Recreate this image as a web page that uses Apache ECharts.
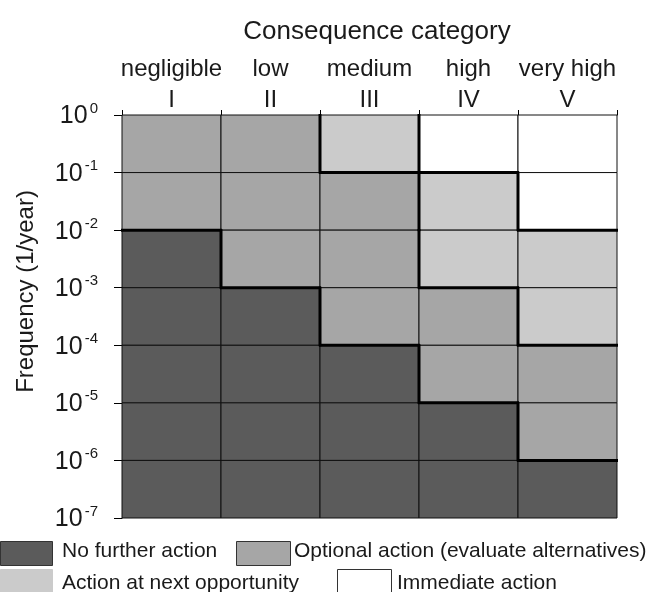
<!DOCTYPE html>
<html>
<head>
<meta charset="utf-8">
<script src="https://cdn.jsdelivr.net/npm/echarts@6/dist/echarts.min.js"></script>
<style>
html,body{margin:0;padding:0;background:#fff;}
#chart{width:652px;height:592px;}
</style>
</head>
<body>
<div id="chart"></div>
<script>
// Consequence categories (columns)
const categoryNames = ['negligible', 'low', 'medium', 'high', 'very high'];
const categoryNumerals = ['I', 'II', 'III', 'IV', 'V'];
// Frequency tick exponents (10^x), top to bottom
const freqExponents = [0, -1, -2, -3, -4, -5, -6, -7];
// Action classes
const actionNames = ['No further action', 'Optional action (evaluate alternatives)', 'Action at next opportunity', 'Immediate action'];
const actionColors = ['#5b5b5b', '#a6a6a6', '#cbcbcb', '#ffffff'];
// Class of each cell per column, rows from top band (10^0..10^-1) to bottom band (10^-6..10^-7)
const colI   = [1, 1, 0, 0, 0, 0, 0];
const colII  = [1, 1, 1, 0, 0, 0, 0];
const colIII = [2, 1, 1, 1, 0, 0, 0];
const colIV  = [3, 2, 2, 1, 1, 0, 0];
const colV   = [3, 3, 2, 2, 1, 1, 0];
const columns = [colI, colII, colIII, colIV, colV];

const cellData = [];
columns.forEach((col, c) => col.forEach((cls, r) => cellData.push([c, r, cls])));

function clsAt(c, r) { return columns[c][r]; }

const chart = echarts.init(document.getElementById('chart'));
const FONT = 'Liberation Sans, Arial, sans-serif';

const option = {
  animation: false,
  backgroundColor: '#fff',
  title: {
    text: 'Consequence category',
    left: 372, top: 14, textAlign: 'center',
    textStyle: { fontFamily: FONT, fontSize: 26, fontWeight: 'normal', color: '#1a1a1a' }
  },
  grid: { left: 122, right: 35, top: 115, bottom: 74, outerBoundsMode: 'none', containLabel: false },
  xAxis: {
    type: 'category',
    position: 'top',
    data: categoryNames,
    axisLine: { show: true, lineStyle: { color: '#000', width: 1 } },
    axisTick: { show: true, length: 5, lineStyle: { color: '#000' } },
    axisLabel: {
      margin: 0,
      fontFamily: FONT,
      formatter: (v, i) => '{n|' + v + '}\n{r|' + categoryNumerals[i] + '}',
      rich: {
        n: { fontFamily: FONT, fontSize: 24, color: '#1a1a1a', lineHeight: 32 },
        r: { fontFamily: FONT, fontSize: 24, color: '#1a1a1a', lineHeight: 30 }
      }
    },
    splitLine: { show: false }
  },
  yAxis: {
    type: 'value',
    min: -7, max: 0, interval: 1,
    name: 'Frequency (1/year)',
    nameLocation: 'middle',
    nameRotate: 90,
    nameGap: 84,
    nameTextStyle: { fontFamily: FONT, fontSize: 24, color: '#1a1a1a', padding: [0, 0, 0, 50] },
    axisLine: { show: true, lineStyle: { color: '#000', width: 1 } },
    axisTick: { show: true, length: 8, lineStyle: { color: '#000' } },
    splitLine: { show: false },
    axisLabel: {
      margin: 24,
      formatter: v => '{b|10}{s|' + freqExponents[-v] + '}',
      rich: {
        b: { fontFamily: FONT, fontSize: 25, color: '#1a1a1a', verticalAlign: 'bottom', lineHeight: 28 },
        s: { fontFamily: FONT, fontSize: 15, color: '#1a1a1a', verticalAlign: 'top', lineHeight: 28, padding: [0, 0, 12, 2] }
      }
    }
  },
  series: [
    {
      type: 'custom',
      data: cellData,
      z: 2,
      renderItem: (params, api) => {
        const c = api.value(0), r = api.value(1), cls = api.value(2);
        const p1 = api.coord([c, -r]);
        const p2 = api.coord([c, -r - 1]);
        const w = api.size([1, 0])[0];
        return {
          type: 'rect',
          shape: { x: p1[0] - w / 2, y: p1[1], width: w, height: p2[1] - p1[1] },
          style: { fill: actionColors[cls], stroke: '#111', lineWidth: 1 }
        };
      }
    },
    {
      type: 'custom',
      data: cellData,
      z: 3,
      renderItem: (params, api) => {
        const c = api.value(0), r = api.value(1), cls = api.value(2);
        const p1 = api.coord([c, -r]);
        const p2 = api.coord([c, -r - 1]);
        const w = api.size([1, 0])[0];
        const x0 = p1[0] - w / 2, x1 = p1[0] + w / 2;
        const children = [];
        if (r > 0 && clsAt(c, r - 1) !== cls) {
          children.push({ type: 'line', shape: { x1: x0 - 1, y1: p1[1], x2: x1 + 1, y2: p1[1] }, style: { stroke: '#000', lineWidth: 3 } });
        }
        if (c < 4 && clsAt(c + 1, r) !== cls) {
          children.push({ type: 'line', shape: { x1: x1, y1: p1[1] - 1, x2: x1, y2: p2[1] + 1 }, style: { stroke: '#000', lineWidth: 3 } });
        }
        return { type: 'group', children: children };
      }
    }
  ],
  graphic: [
    { type: 'rect', left: 0, top: 541, shape: { width: 52, height: 24 }, style: { fill: actionColors[0], stroke: '#333', lineWidth: 1 } },
    { type: 'text', left: 62, top: 541, style: { text: actionNames[0], fontFamily: FONT, fontSize: 21, fill: '#1a1a1a' } },
    { type: 'rect', left: 236, top: 541, shape: { width: 54, height: 24 }, style: { fill: actionColors[1], stroke: '#333', lineWidth: 1 } },
    { type: 'text', left: 294, top: 541, style: { text: actionNames[1], fontFamily: FONT, fontSize: 21, fill: '#1a1a1a' } },
    { type: 'rect', left: 0, top: 569, shape: { width: 52, height: 26 }, style: { fill: actionColors[2], stroke: '#cbcbcb', lineWidth: 1 } },
    { type: 'text', left: 62, top: 573, style: { text: actionNames[2], fontFamily: FONT, fontSize: 21, fill: '#1a1a1a' } },
    { type: 'rect', left: 337, top: 569, shape: { width: 54, height: 26 }, style: { fill: actionColors[3], stroke: '#333', lineWidth: 1 } },
    { type: 'text', left: 397, top: 573, style: { text: actionNames[3], fontFamily: FONT, fontSize: 21, fill: '#1a1a1a' } }
  ]
};
chart.setOption(option);
</script>
</body>
</html>
